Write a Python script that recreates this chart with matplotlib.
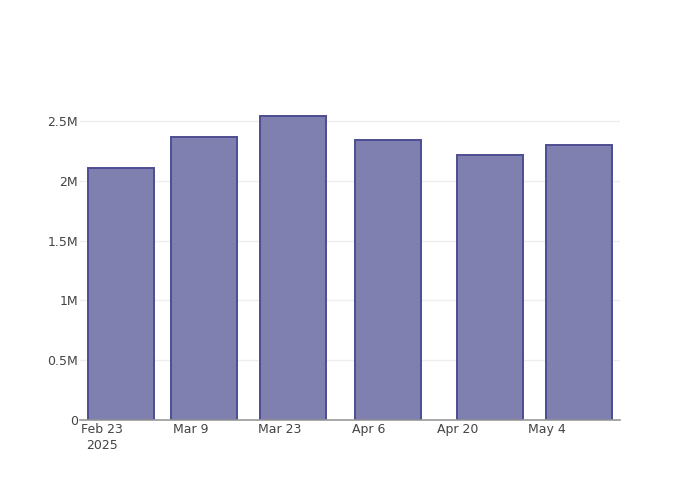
import numpy as np
import pandas as pd
import matplotlib
matplotlib.use("Agg")
import matplotlib.pyplot as plt
import matplotlib.dates as mdates

# data
dates = pd.to_datetime(["2025-02-26", "2025-03-11", "2025-03-25",
                        "2025-04-09", "2025-04-25", "2025-05-09"])
values = [2.107e6, 2.366e6, 2.542e6, 2.341e6, 2.216e6, 2.299e6]

tick_dates = pd.to_datetime(["2025-02-23", "2025-03-09", "2025-03-23",
                             "2025-04-06", "2025-04-20", "2025-05-04"])
tick_labels = ["Feb 23\n2025", "Mar 9", "Mar 23", "Apr 6", "Apr 20", "May 4"]
y_ticks = [0, 0.5e6, 1e6, 1.5e6, 2e6, 2.5e6]
y_labels = ["0", "0.5M", "1M", "1.5M", "2M", "2.5M"]

plt.rcParams['font.family'] = ['DejaVu Sans']

fig = plt.figure(figsize=(7, 5), dpi=100)
ax = fig.add_axes([80 / 700, 80 / 500, 540 / 700, 320 / 500])

x = mdates.date2num(dates)
width = 0.8 * np.min(np.diff(x))
ax.bar(x, values, width=width, color='#7f7fb0', edgecolor='#4d4d92',
       linewidth=1.4, zorder=3)

ax.set_xlim(mdates.date2num(pd.Timestamp("2025-02-19 13:00")),
            mdates.date2num(pd.Timestamp("2025-05-15 12:00")))
ax.set_ylim(0, 2.676e6)

ax.set_xticks(mdates.date2num(tick_dates))
ax.set_xticklabels(tick_labels, ha='center', linespacing=1.3)
ax.set_yticks(y_ticks)
ax.set_yticklabels(y_labels)

ax.tick_params(axis='both', length=0, labelsize=9, colors='#444444')
ax.tick_params(axis='x', pad=2)
ax.tick_params(axis='y', pad=1.5)

ax.grid(axis='y', color='#eeeeee', linewidth=1, zorder=0)
for s in ['top', 'right', 'left']:
    ax.spines[s].set_visible(False)
ax.spines['bottom'].set_color('#999999')
ax.spines['bottom'].set_linewidth(1.2)
ax.spines['bottom'].set_zorder(4)

fig.savefig('out.png', dpi=100)
